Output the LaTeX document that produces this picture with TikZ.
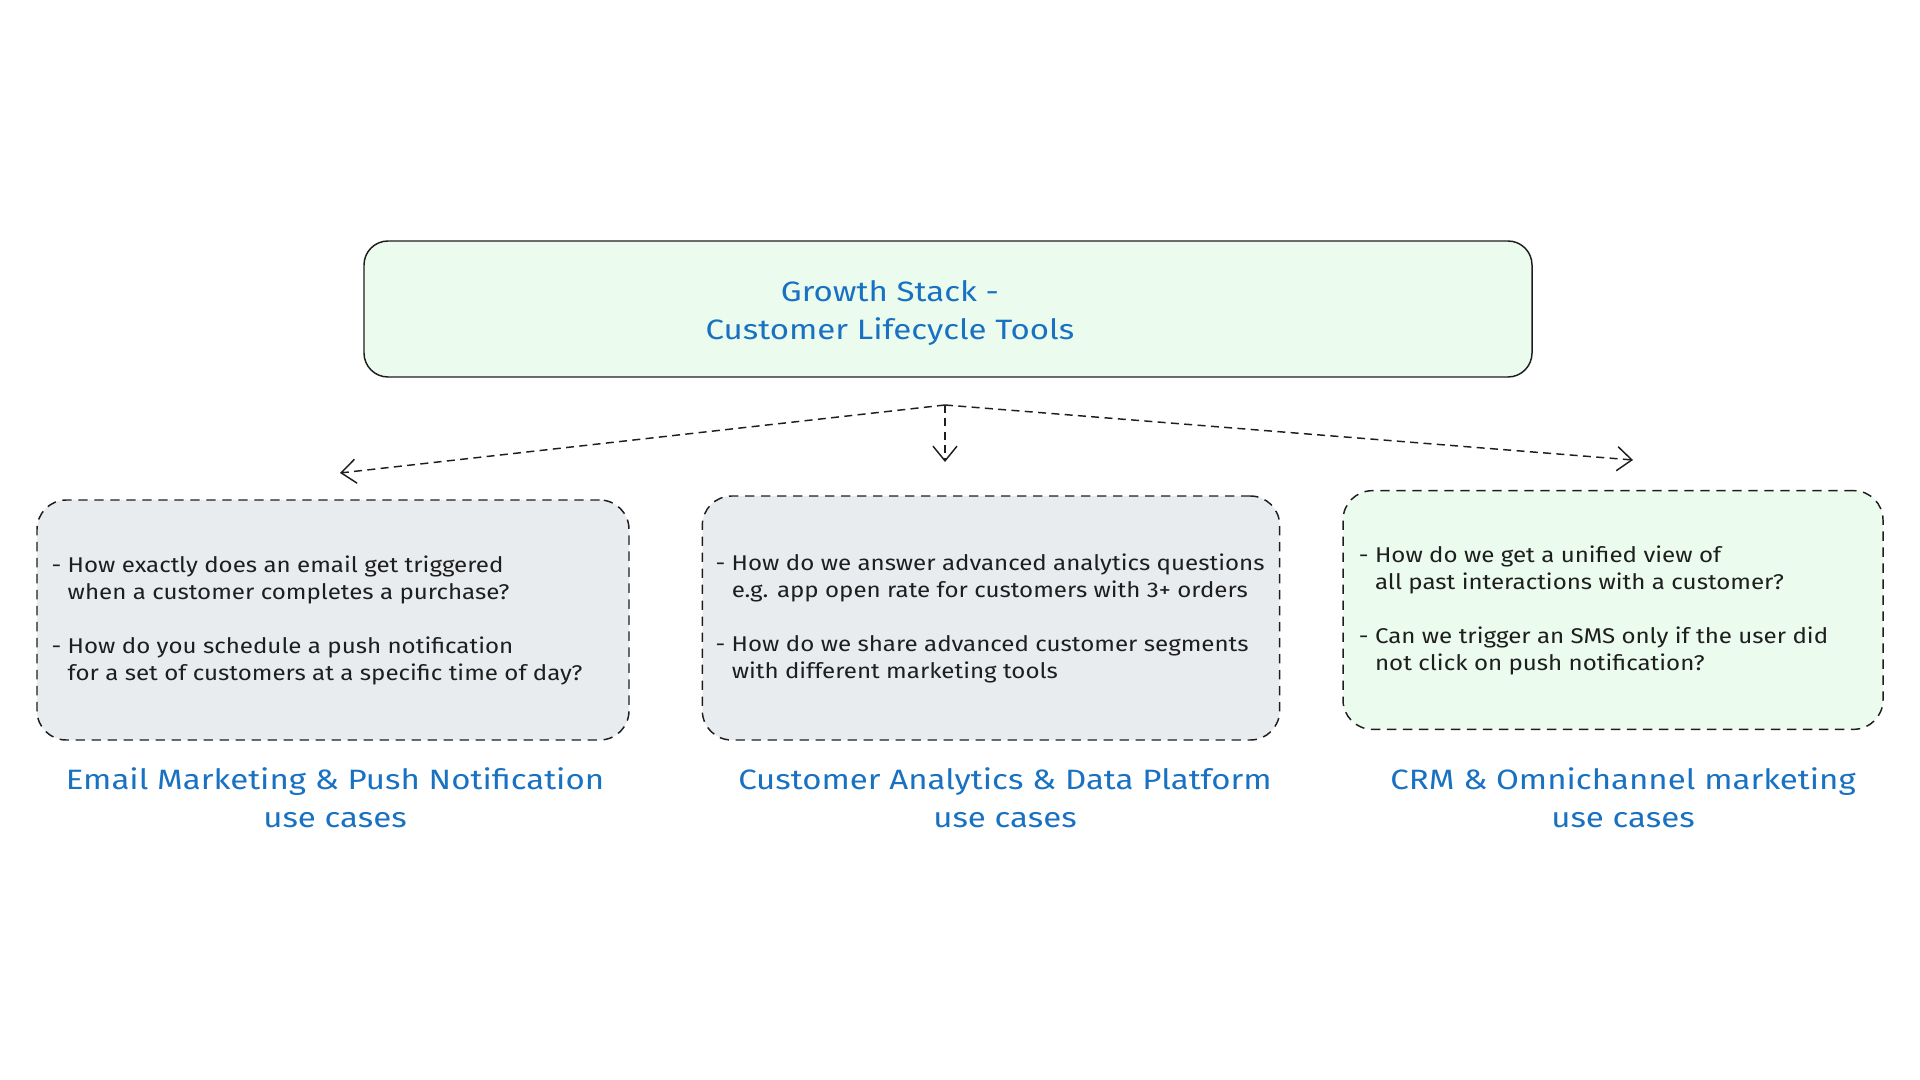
\documentclass[tikz,border=0pt]{standalone}
\usepackage{fontspec}
\setmainfont[FakeStretch=1.18]{Fira Sans}
\newfontfamily\qfont[FakeStretch=1.13]{Fira Sans}
\usetikzlibrary{arrows.meta,positioning}
\definecolor{ink}{HTML}{1E1E1E}
\definecolor{blu}{HTML}{1971C2}
\definecolor{gr}{HTML}{EBFBEE}
\definecolor{gy}{HTML}{E9ECEF}

\begin{document}
\begin{tikzpicture}[x=0.75pt,y=-0.75pt,
    top/.style={rectangle,draw=ink,fill=gr,rounded corners=18pt,line width=1.1pt,minimum width=876pt,minimum height=102pt},
    qbox/.style={rectangle,draw=ink,dash pattern=on 7pt off 5pt,rounded corners=22pt,line width=1.1pt},
    qtxt/.style={anchor=west,align=left,text=ink,font=\qfont\fontsize{16}{20.25}\selectfont},
    ttl/.style={text=blu,align=center,font=\fontsize{21}{28.5}\selectfont},
    arr/.style={draw=ink,dash pattern=on 6pt off 4pt,line width=1.1pt,-{Straight Barb[length=11pt,width=18pt]}},
]
\useasboundingbox (0,0) rectangle (1920,1080);

\node[top] (stack) at (948,309) {};
\node[ttl] (stackt) at (890,313) {Growth Stack -\\Customer Lifecycle Tools};

\node[qbox,fill=gy,minimum width=444pt,minimum height=180pt] (q1) at (333,620) {};
\node[qbox,fill=gy,minimum width=433pt,minimum height=183pt] (q2) at (991,618) {};
\node[qbox,fill=gr,minimum width=405pt,minimum height=179pt] (q3) at (1613,610) {};

\node[qtxt] (t1) at ([xshift=8pt]q1.west) {- How exactly does an email get triggered\\\hphantom{- }when a customer completes a purchase?\\[20.25pt]- How do you schedule a push notification\\\hphantom{- }for a set of customers at a specific time of day?};
\node[qtxt] (t2) at ([xshift=7pt]q2.west) {- How do we answer advanced analytics questions\\\hphantom{- }e.g. app open rate for customers with 3+ orders\\[20.25pt]- How do we share advanced customer segments\\\hphantom{- }with different marketing tools};
\node[qtxt] (t3) at ([xshift=9pt]q3.west) {- How do we get a unified view of\\\hphantom{- }all past interactions with a customer?\\[20.25pt]- Can we trigger an SMS only if the user did\\\hphantom{- }not click on push notification?};

\node[ttl] (l1) at (335,798) {Email Marketing \& Push Notification\\use cases};
\node[ttl] (l2) at (1005,798) {Customer Analytics \& Data Platform\\use cases};
\node[ttl] (l3) at (1623,798) {CRM \& Omnichannel marketing\\use cases};

\coordinate (fork) at (945,405);
\coordinate (aL) at (340,473);
\coordinate (aM) at (945,462);
\coordinate (aR) at (1633,460);
\draw[arr] (fork) -- (aL);
\draw[arr] (fork) -- (aM);
\draw[arr] (fork) -- (aR);
\end{tikzpicture}
\end{document}
